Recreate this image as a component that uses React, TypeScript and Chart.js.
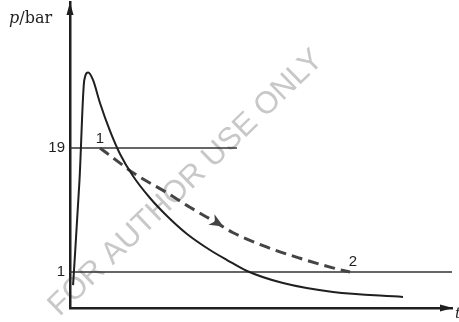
import React, { useEffect, useRef } from "react";
import { Chart, registerables } from "chart.js";

Chart.register(...registerables);

// Cylinder pressure curve (schematic), t in arbitrary units, p in bar
const curveT = [0.8, 2.49, 3.74, 4.79, 6.02, 7.85, 10.47, 13.09, 16.49, 20.94, 25.39, 30.63, 36.65, 41.1, 46.34, 55.76, 68.85, 87.17];
const curveP = [-0.9, 14.36, 28.87, 29.96, 28.87, 25.53, 21.47, 18.13, 14.94, 11.74, 9.13, 6.52, 4.19, 2.74, 1.15, -0.6, -1.89, -2.61];

// Dashed process 1 -> 2
const processT = [7.85, 13.1, 16.5, 25.4, 31.4, 38.5, 42.7, 51.6, 60.2, 68.8, 73.3];
const processP = [19.0, 16.8, 15.4, 12.5, 10.4, 8.1, 6.7, 4.6, 3.0, 1.6, 1.0];

// Reference pressure levels and where their lines end
const refLevels = [19, 1];
const refEnds = [43.7, 100];

const yTickValues = [1, 19];
const pointLabels = ["1", "2"];
const yAxisLabel = "p/bar";
const xAxisLabel = "t";
const watermark = "FOR AUTHOR USE ONLY";

const T_MIN = 0;
const T_MAX = 100;
const P_MIN = -4.224;
const P_MAX = 40.19;

const ink = "#1f1f1f";

export default function App() {
  const ref = useRef<HTMLCanvasElement | null>(null);

  useEffect(() => {
    if (!ref.current) return;

    const overlay = {
      id: "overlay",
      beforeDraw(chart: any) {
        const ctx = chart.ctx;
        ctx.save();
        ctx.translate(186, 183);
        ctx.rotate((-44 * Math.PI) / 180);
        ctx.font = "31px 'Liberation Sans', Arial, sans-serif";
        ctx.fillStyle = "#c8c8c8";
        ctx.textAlign = "center";
        ctx.textBaseline = "middle";
        ctx.fillText(watermark, 0, 0);
        ctx.restore();
      },
      afterDraw(chart: any) {
        const ctx = chart.ctx;
        const xs = chart.scales.x;
        const ys = chart.scales.y;
        const area = chart.chartArea;
        ctx.save();
        ctx.fillStyle = ink;
        // y axis arrowhead
        const ax = area.left;
        ctx.beginPath();
        ctx.moveTo(ax, area.top);
        ctx.lineTo(ax - 3.5, area.top + 13);
        ctx.lineTo(ax + 3.5, area.top + 13);
        ctx.closePath();
        ctx.fill();
        // x axis arrowhead
        const ay = area.bottom;
        ctx.beginPath();
        ctx.moveTo(area.right + 1, ay);
        ctx.lineTo(area.right - 12, ay - 3.5);
        ctx.lineTo(area.right - 12, ay + 3.5);
        ctx.closePath();
        ctx.fill();

        // arrowhead on dashed process line
        const i = 5;
        const x1 = xs.getPixelForValue(processT[i - 1]);
        const y1 = ys.getPixelForValue(processP[i - 1]);
        const x2 = xs.getPixelForValue(processT[i]);
        const y2 = ys.getPixelForValue(processP[i]);
        const ang = Math.atan2(y2 - y1, x2 - x1);
        ctx.save();
        ctx.translate(x2 + 3, y2 + 1.5);
        ctx.rotate(ang);
        ctx.fillStyle = "#444";
        ctx.beginPath();
        ctx.moveTo(4, 0);
        ctx.lineTo(-10, -6);
        ctx.lineTo(-6, 0);
        ctx.lineTo(-10, 6);
        ctx.closePath();
        ctx.fill();
        ctx.restore();

        // state labels
        ctx.fillStyle = ink;
        ctx.font = "15px 'Liberation Sans', Arial, sans-serif";
        ctx.textAlign = "center";
        ctx.textBaseline = "alphabetic";
        const sx = xs.getPixelForValue(processT[0]);
        const sy = ys.getPixelForValue(processP[0]);
        ctx.fillText(pointLabels[0], sx, sy - 5);
        const n = processT.length - 1;
        const ex = xs.getPixelForValue(processT[n]);
        const ey = ys.getPixelForValue(processP[n]);
        ctx.fillText(pointLabels[1], ex + 3, ey - 6);

        // axis labels
        ctx.textAlign = "left";
        ctx.font = "italic 16px 'DejaVu Serif', 'Liberation Serif', serif";
        ctx.fillText("p", 9, 23);
        const pw = ctx.measureText("p").width;
        ctx.font = "16px 'DejaVu Serif', 'Liberation Serif', serif";
        ctx.fillText(yAxisLabel.slice(1), 9 + pw, 23);
        ctx.font = "italic 15px 'DejaVu Serif', 'Liberation Serif', serif";
        ctx.fillText(xAxisLabel, area.right + 3, area.bottom + 10);
        ctx.restore();
      },
    };

    const pts = (ts: number[], ps: number[]) => ts.map((t, k) => ({ x: t, y: ps[k] }));

    const chart = new Chart(ref.current, {
      type: "scatter",
      data: {
        datasets: [
          {
            label: "pressure",
            data: pts(curveT, curveP),
            showLine: true,
            borderColor: ink,
            borderWidth: 2,
            pointRadius: 0,
            cubicInterpolationMode: "monotone",
          } as any,
          {
            label: "process",
            data: pts(processT, processP),
            showLine: true,
            borderColor: "#444",
            borderWidth: 3,
            borderDash: [11, 6],
            pointRadius: 0,
            cubicInterpolationMode: "monotone",
          } as any,
          ...refLevels.map((lvl, k) => ({
            label: "level " + lvl,
            data: [
              { x: T_MIN, y: lvl },
              { x: refEnds[k], y: lvl },
            ],
            showLine: true,
            borderColor: "#333",
            borderWidth: 1.3,
            pointRadius: 0,
          })),
        ],
      },
      options: {
        animation: false,
        responsive: true,
        maintainAspectRatio: false,
        layout: { padding: { left: 0, right: 7, top: 2, bottom: 0 } },
        plugins: {
          legend: { display: false },
          tooltip: { enabled: false },
        },
        scales: {
          x: {
            type: "linear",
            min: T_MIN,
            max: T_MAX,
            grid: { display: false, drawTicks: false },
            border: { display: true, color: ink, width: 2.5 },
            ticks: { display: false },
            afterFit: (s: any) => {
              s.height = 14;
              s.paddingLeft = 0;
              s.paddingRight = 0;
            },
          },
          y: {
            type: "linear",
            min: P_MIN,
            max: P_MAX,
            grid: { display: false, drawTicks: false },
            border: { display: true, color: ink, width: 2.5 },
            ticks: {
              autoSkip: false,
              padding: 5,
              color: ink,
              font: { family: "'Liberation Sans', Arial, sans-serif", size: 15 },
              callback: (v: any) => String(v),
            },
            afterBuildTicks: (s: any) => {
              s.ticks = yTickValues.map((v) => ({ value: v }));
            },
            afterFit: (s: any) => {
              s.width = 70;
              s.paddingTop = 0;
              s.paddingBottom = 0;
            },
          },
        },
      } as any,
      plugins: [overlay],
    });

    return () => chart.destroy();
  }, []);

  return (
    <div style={{ position: "absolute", left: 0, top: 0, width: 459, height: 322, background: "#fff" }}>
      <canvas ref={ref} />
    </div>
  );
}
